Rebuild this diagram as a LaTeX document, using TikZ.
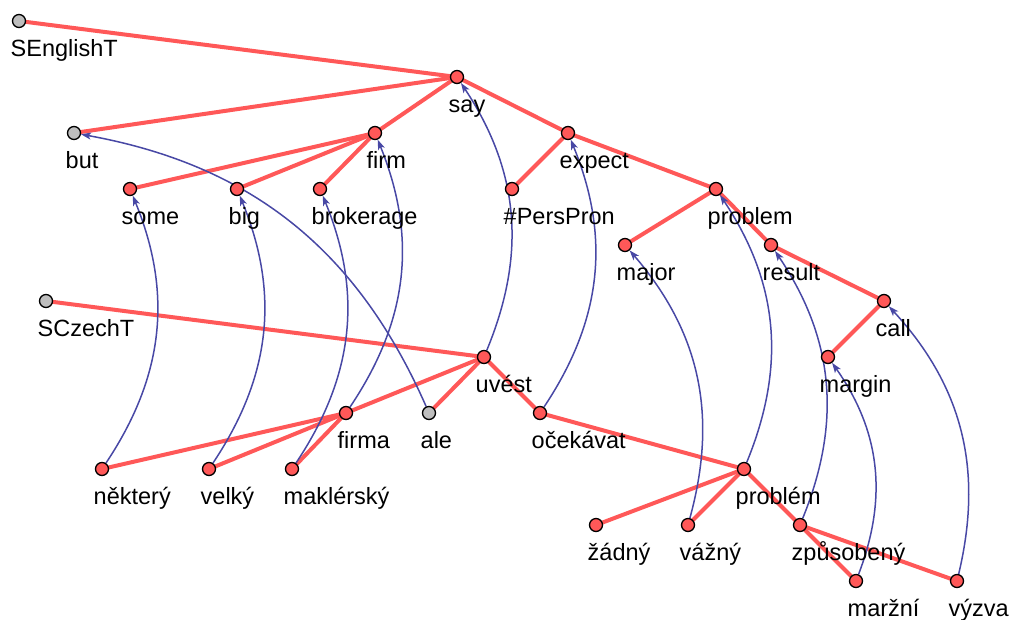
\documentclass[tikz,border=0pt]{standalone}
\usepackage{fontspec}
\setmainfont{Liberation Sans}
\usetikzlibrary{arrows.meta}
\pgfdeclarelayer{edges}
\pgfdeclarelayer{links}
\pgfsetlayers{edges,links,main}
\definecolor{treered}{RGB}{255,88,88}
\definecolor{linkblue}{RGB}{72,72,165}
\definecolor{rootgray}{RGB}{190,190,190}
\tikzset{
  dot/.style={circle,draw=black,line width=1.3pt,inner sep=0pt,minimum size=13pt},
  lbl/.style={anchor=base west,inner sep=0pt,font=\fontsize{23.5}{27}\selectfont},
  tedge/.style={draw=treered,line width=4pt},
  alink/.style={draw=linkblue,line width=1.5pt,-{Stealth[length=10pt,width=7pt,inset=2.5pt]},bend right=28}
}
% #1 name, #2 x, #3 y, #4 fill, #5 text
\newcommand\tnode[5]{%
  \node[dot,fill=#4] (#1) at (#2,#3) {};
  \node[lbl] (#1-l) at (#2-8.5,#3+35) {#5};}
\begin{document}
\begin{tikzpicture}[x=1pt,y=-1pt]
\useasboundingbox (0,0) rectangle (1012,619);
% English tree
\tnode{sen}{19}{21}{rootgray}{SEnglishT}
\tnode{say}{457}{77}{treered}{say}
\tnode{but}{74}{133}{rootgray}{but}
\tnode{firm}{375}{133}{treered}{firm}
\tnode{expect}{568}{133}{treered}{expect}
\tnode{some}{130}{189}{treered}{some}
\tnode{big}{237}{189}{treered}{big}
\tnode{brokerage}{320}{189}{treered}{brokerage}
\tnode{perspron}{512}{189}{treered}{\#PersPron}
\tnode{problem}{716}{189}{treered}{problem}
\tnode{major}{625}{245}{treered}{major}
\tnode{result}{771}{245}{treered}{result}
\tnode{call}{884}{301}{treered}{call}
\tnode{margin}{828}{357}{treered}{margin}
% Czech tree
\tnode{scz}{46}{301}{rootgray}{SCzechT}
\tnode{uvest}{484}{357}{treered}{uvést}
\tnode{firma}{346}{413}{treered}{firma}
\tnode{ale}{429}{413}{rootgray}{ale}
\tnode{ocekavat}{540}{413}{treered}{očekávat}
\tnode{nektery}{102}{469}{treered}{některý}
\tnode{velky}{209}{469}{treered}{velký}
\tnode{maklersky}{292}{469}{treered}{maklérský}
\tnode{problemcz}{744}{469}{treered}{problém}
\tnode{zadny}{596}{525}{treered}{žádný}
\tnode{vazny}{688}{525}{treered}{vážný}
\tnode{zpusobeny}{800}{525}{treered}{způsobený}
\tnode{marzni}{856}{581}{treered}{maržní}
\tnode{vyzva}{957}{581}{treered}{výzva}

\begin{pgfonlayer}{edges}
  \foreach \a/\b in {sen/say, say/but, say/firm, say/expect,
      firm/some, firm/big, firm/brokerage, expect/perspron, expect/problem,
      problem/major, problem/result, result/call, call/margin,
      scz/uvest, uvest/firma, uvest/ale, uvest/ocekavat,
      firma/nektery, firma/velky, firma/maklersky, ocekavat/problemcz,
      problemcz/zadny, problemcz/vazny, problemcz/zpusobeny,
      zpusobeny/marzni, zpusobeny/vyzva}
    \draw[tedge] (\a.center) -- (\b.center);
\end{pgfonlayer}

\begin{pgfonlayer}{links}
  \foreach \a/\b in {nektery/some, velky/big, maklersky/brokerage, firma/firm,
      ale/but, uvest/say, ocekavat/expect, vazny/major, problemcz/problem,
      zpusobeny/result, marzni/margin, vyzva/call}
    \draw[alink] (\a) to (\b);
\end{pgfonlayer}
\end{tikzpicture}
\end{document}
